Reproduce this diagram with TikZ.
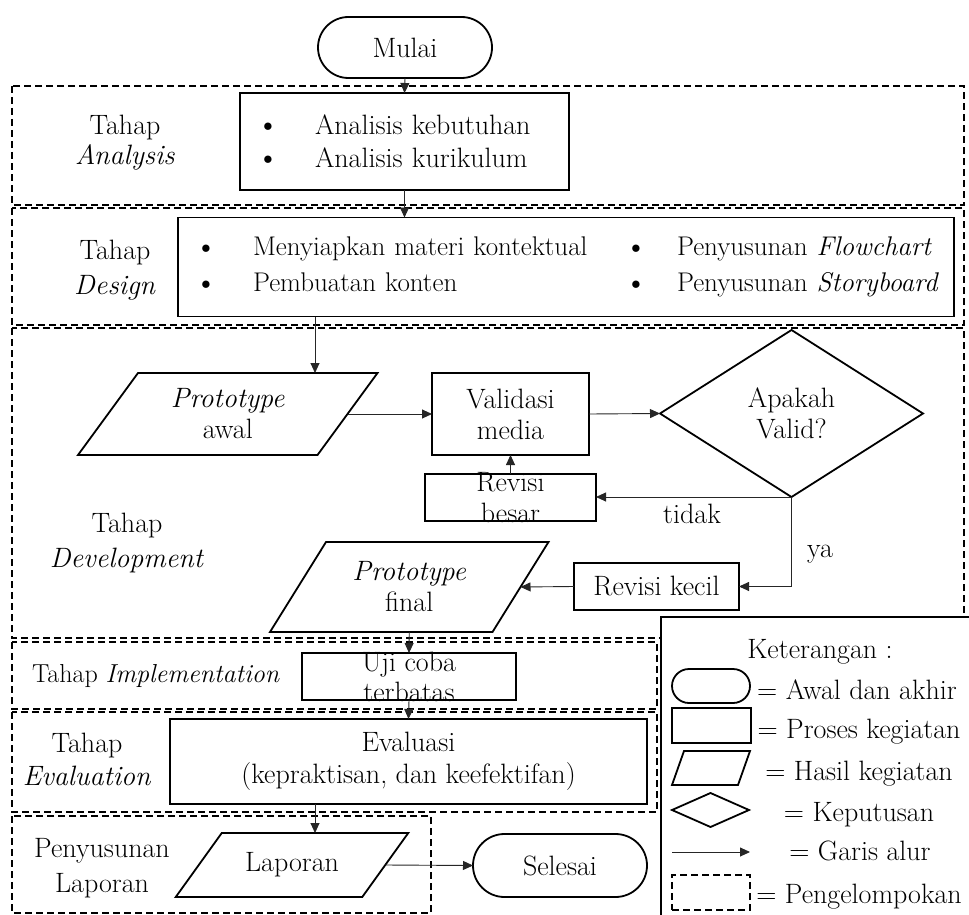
\documentclass[tikz,border=0pt]{standalone}
\usepackage{fontspec}
\usetikzlibrary{arrows.meta,shapes.geometric,shapes.misc}
\newcommand{\fsz}{\fontsize{28}{31}\selectfont}
\newcommand{\bul}{\raisebox{-1.5pt}{\fontsize{33}{33}\selectfont\textbullet}}
\newcommand{\drawpara}[2]{\draw[shp] ([xshift=#2]#1.north west) -- ([xshift=#2]#1.north east) -- ([xshift=-#2]#1.south east) -- ([xshift=-#2]#1.south west) -- cycle;}
\begin{document}
\begin{tikzpicture}[x=1pt,y=-1pt,
  every node/.style={font=\fsz, inner sep=0pt, outer sep=0pt},
  shp/.style={draw=black, line width=1.8pt},
  procbox/.style={shp, rectangle},
  term/.style={shp, rounded rectangle},
  parabox/.style={rectangle},
  decbox/.style={shp, diamond},
  grp/.style={draw=black, line width=1.8pt, dash pattern=on 7pt off 4pt},
  flow/.style={draw=black!85, line width=0.9pt, -{Triangle[length=10pt,width=9pt]}},
  txt/.style={align=center},
]
\useasboundingbox (0,0) rectangle (969,915);
\clip (0,0) rectangle (969,915);

% groups
\draw[grp] (12,86) rectangle (964,205);
\draw[grp] (12,208) rectangle (964,325);
\draw[grp] (12,328) rectangle (964,638);
\draw[grp] (12,642) rectangle (657,709);
\draw[grp] (12,712) rectangle (657,812);
\draw[grp] (12,816) rectangle (431,913);

% group labels
\node[txt, font=\fontsize{28}{30}\selectfont] at (125,143) {Tahap\\\textit{Analysis}};
\node[txt, font=\fontsize{28}{35}\selectfont] at (115,270) {Tahap\\\textit{Design}};
\node[txt, font=\fontsize{28}{35}\selectfont] at (127,543) {Tahap\\\textit{Development}};
\node[anchor=base west, font=\fontsize{26}{30}\selectfont] at (32,682) {Tahap \textit{Implementation}};
\node[txt, font=\fontsize{28}{33}\selectfont] at (87,759) {Tahap\\\textit{Evaluation}};
\node[txt, font=\fontsize{28}{35}\selectfont] at (102,868) {Penyusunan\\Laporan};

% nodes
\node[term, minimum width=174, minimum height=61] (mulai) at (405,47.5) {Mulai};
\node[procbox, text width=297, inner xsep=16, minimum height=97, align=left, font=\fontsize{28}{33}\selectfont] (ana) at (404.5,141.5)
  {\makebox[59pt][l]{\bul}Analisis kebutuhan\\ \makebox[59pt][l]{\bul}Analisis kurikulum};
\node[procbox, text width=744, inner xsep=16, minimum height=99, align=left, font=\fontsize{27}{36}\selectfont] (des) at (566,267)
  {\makebox[59pt][l]{\bul}\makebox[371pt][l]{Menyiapkan materi kontektual}\makebox[53pt][l]{\bul}\rlap{Penyusunan \textit{Flowchart}}\\
   \makebox[59pt][l]{\bul}\makebox[371pt][l]{Pembuatan konten}\makebox[53pt][l]{\bul}\rlap{Penyusunan \textit{Storyboard}}};

\node[parabox, minimum width=239.5, minimum height=82] (awal) at (227.75,414) {};
\drawpara{awal}{30}
\node[txt] at (awal) {\textit{Prototype}\\awal};

\node[procbox, minimum width=157, minimum height=82, txt] (val) at (510.5,414) {Validasi\\media};
\node[decbox, minimum width=263, minimum height=167, txt] (dia) at (791.5,413.5) {Apakah\\Valid?};
\node[procbox, minimum width=171, minimum height=47] (rb) at (510.5,497.5) {};
\node[txt] at (rb) {Revisi\\besar};
\node[procbox, minimum width=165, minimum height=47] (rk) at (656.5,586.5) {Revisi kecil};

\node[parabox, minimum width=222.5, minimum height=90] (final) at (409.25,587) {};
\drawpara{final}{28}
\node[txt] at (final) {\textit{Prototype}\\final};

\node[procbox, minimum width=214, minimum height=47] (uji) at (409,676.5) {};
\node[txt, font=\fontsize{28}{30}\selectfont] at (uji) {Uji coba\\terbatas};

\node[procbox, minimum width=477, minimum height=85, txt, font=\fontsize{28}{32}\selectfont] (eva) at (408.5,761.5) {Evaluasi\\(kepraktisan, dan keefektifan)};

\node[parabox, minimum width=186.5, minimum height=64] (lap) at (292,865) {};
\drawpara{lap}{23}
\node at (lap) {Laporan};

\node[term, minimum width=174, minimum height=63] (sel) at (560,865.5) {Selesai};

% connectors
\coordinate (d2a) at (315,0);
\coordinate (e2l) at (315,0);
\draw[flow] (mulai.south) -- (ana.north);
\draw[flow] (ana.south) -- (ana.south |- des.north);
\draw[flow] (d2a |- des.south) -- (d2a |- awal.north);
\draw[flow] (awal.east) -- (val.west);
\draw[flow] (val.east) -- (dia.west);
\draw[flow] (dia.south) -- (dia.south -| rb.east);
\node[anchor=base] at (692,523) {tidak};
\draw[flow] (rb.north) -- (val.south);
\draw[flow] (dia.south) |- (rk.east);
\node[anchor=base] at (820,557) {ya};
\draw[flow] (rk.west) -- (final.east);
\draw[flow] (final.south) -- (uji.north);
\draw[flow] (uji.south) -- (eva.north);
\draw[flow] (e2l |- eva.south) -- (e2l |- lap.north);
\draw[flow] (lap.east) -- (sel.west);

% legend
\draw[shp, fill=white] (661,617) rectangle (990,940);
\node[anchor=base] at (820,658) {Keterangan :};
\node[term, minimum width=78, minimum height=34] (lt) at (711,686) {};
\node[anchor=base] at (857,699) {= Awal dan akhir};
\node[procbox, minimum width=79, minimum height=35] (lr) at (711.5,725.5) {};
\node[anchor=base] at (859,738) {= Proses kegiatan};
\node[parabox, minimum width=66, minimum height=34] (lp) at (711,768) {};
\drawpara{lp}{6}
\node[anchor=base] at (859,780) {= Hasil kegiatan};
\node[decbox, minimum width=77, minimum height=34] (ld) at (710.5,810) {};
\node[anchor=base] at (859,821) {= Keputusan};
\coordinate (la1) at (672,852);
\coordinate (la2) at (750,852);
\draw[flow] (la1) -- (la2);
\node[anchor=base] at (860,860) {= Garis alur};
\node[grp, minimum width=78, minimum height=35] (lg) at (711,892.5) {};
\node[anchor=base] at (859,903) {= Pengelompokan};
\end{tikzpicture}
\end{document}
